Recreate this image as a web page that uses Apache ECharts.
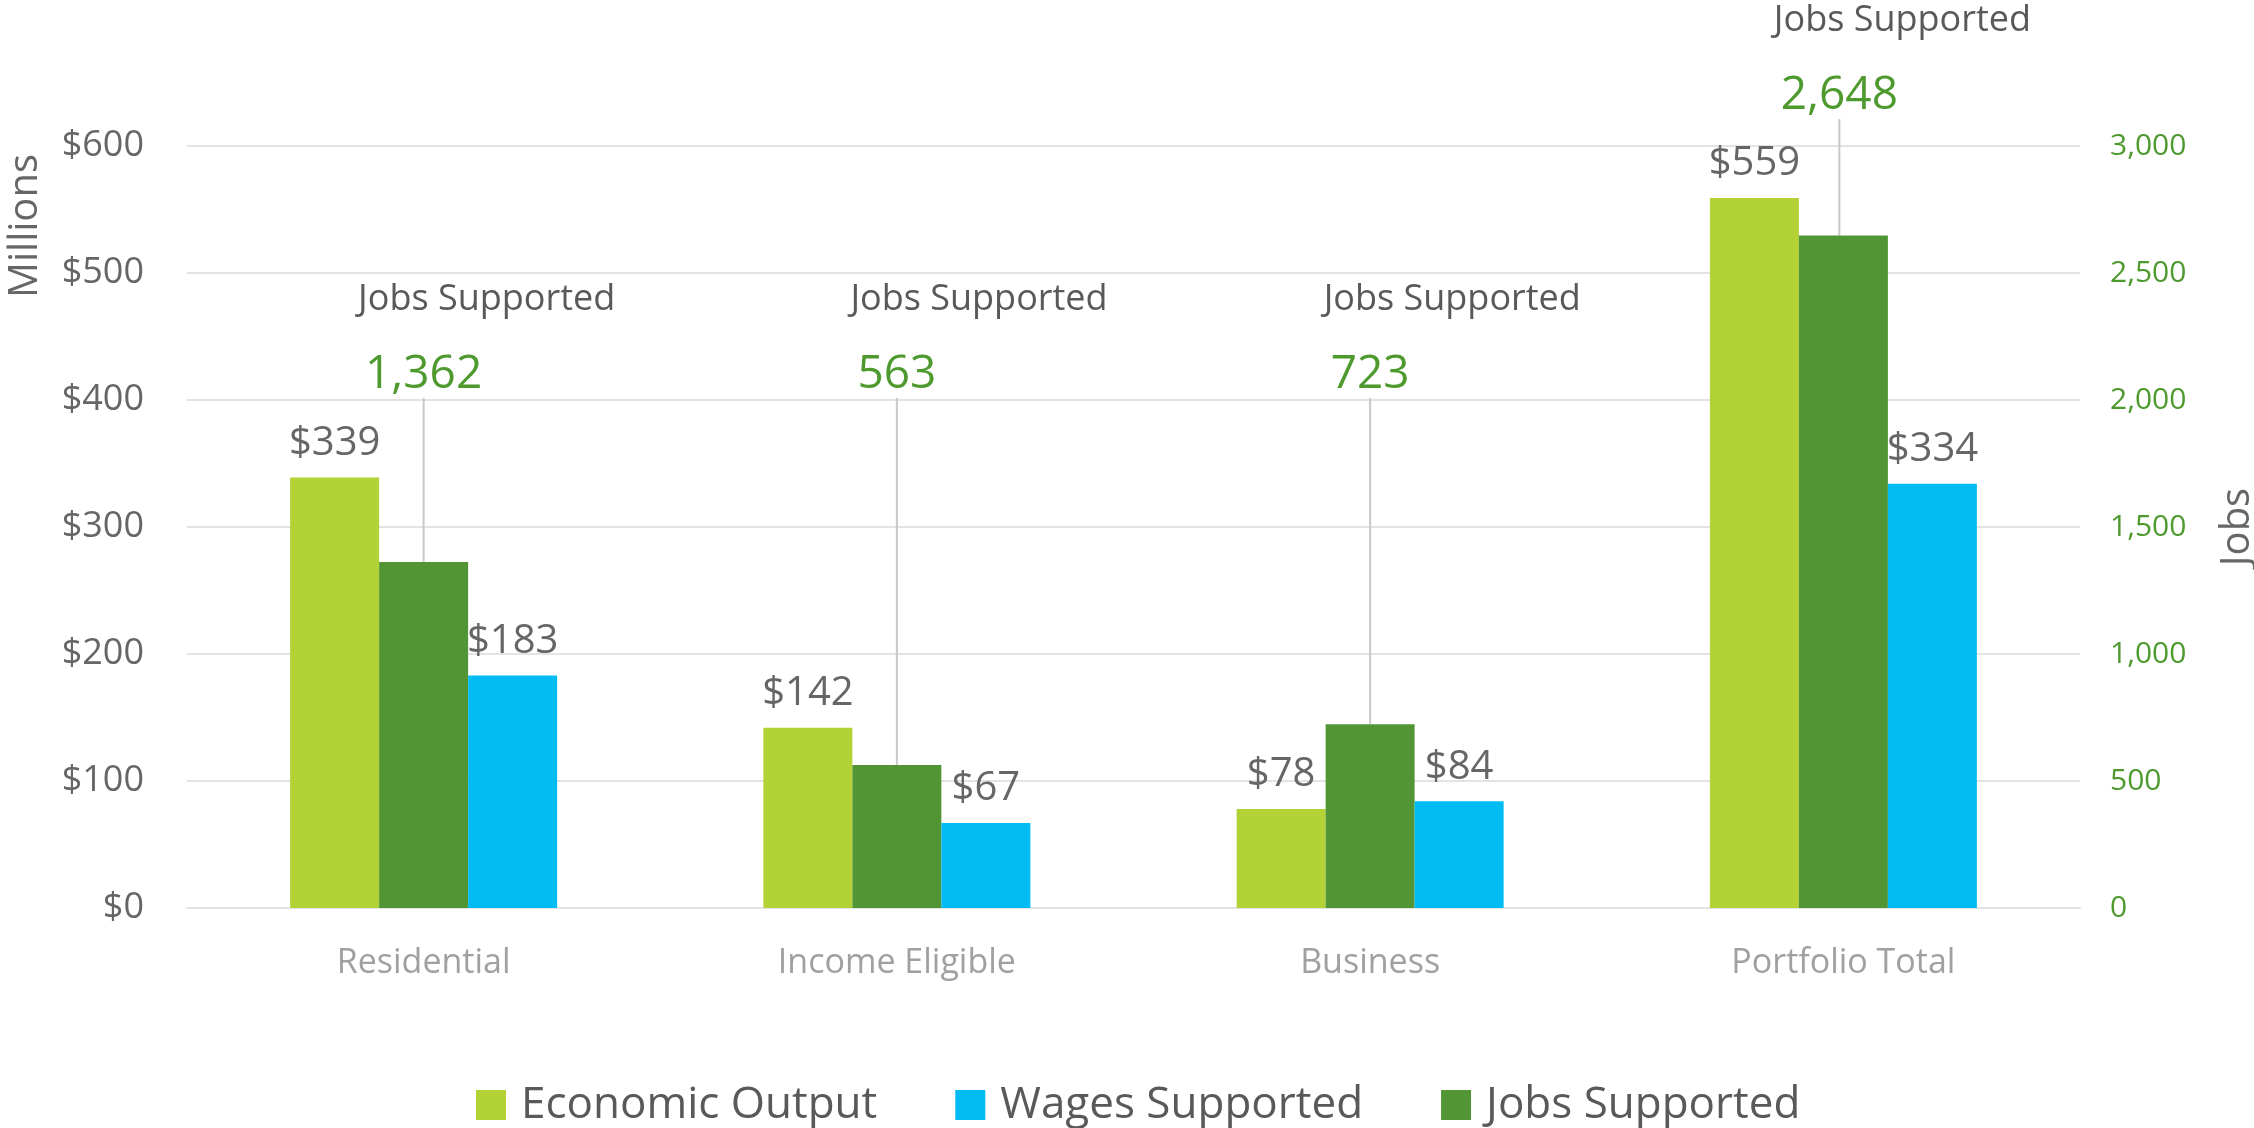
<!DOCTYPE html>
<html>
<head>
<meta charset="utf-8">
<script src="https://cdn.jsdelivr.net/npm/echarts@6/dist/echarts.min.js"></script>
<style>
  html,body{margin:0;padding:0;background:#fff}
  #main{width:2254px;height:1128px}
</style>
</head>
<body>
<div id="main"></div>
<script>
// data
var categories = ['Residential', 'Income Eligible', 'Business', 'Portfolio Total']
var economicOutput = [339, 142, 78, 559]
var wagesSupported = [183, 67, 84, 334]
var jobsSupported = [1362, 563, 723, 2648]
var moneyTicks = { min: 0, max: 600, interval: 100 }
var jobTicks = { min: 0, max: 3000, interval: 500 }

var FONT = '"Open Sans", "Noto Sans", sans-serif'
var grey = '#666666'
var green = '#4e9a2f'

// measure text so the green number sits centred over its bar and the
// "Jobs Supported" line starts just left of the number (as in Excel)
var ctx = document.createElement('canvas').getContext('2d')
function textW(str, size) {
  ctx.font = size + 'px ' + FONT
  return ctx.measureText(str).width
}
var titleW = textW('Jobs Supported', 36)

var jobsData = jobsSupported.map(function (v) {
  var numW = textW(v.toLocaleString('en-US'), 46)
  var tPad = Math.max(0, titleW - numW - 14)
  var vPad = Math.max(0, titleW - numW - 7)
  return {
    value: v,
    label: {
      rich: {
        t: { fontSize: 36, color: '#595959', lineHeight: 80, fontFamily: FONT, align: 'left', padding: [0, 0, 0, tPad] },
        v: { fontSize: 46, color: green, lineHeight: 70, fontFamily: FONT, align: 'left', padding: [0, 0, 0, vPad] }
      }
    }
  }
})

var myChart = echarts.init(document.getElementById('main'))

var option = {
  animation: false,
  textStyle: { fontFamily: FONT },
  grid: { left: 187, right: 174, top: 146, bottom: 220 },
  legend: {
    data: ['Economic Output', 'Wages Supported', 'Jobs Supported'],
    left: 471,
    top: 1078,
    itemWidth: 30,
    itemHeight: 30,
    itemGap: 78,
    icon: 'rect',
    textStyle: { fontSize: 44, color: '#595959', fontFamily: FONT, padding: [0, 0, 0, 10] }
  },
  xAxis: {
    type: 'category',
    data: categories,
    axisLine: { lineStyle: { color: '#e3e3e3', width: 2 } },
    axisTick: { show: false },
    axisLabel: { fontSize: 34, color: '#a0a0a0', margin: 38, fontFamily: FONT }
  },
  yAxis: [
    {
      type: 'value',
      min: moneyTicks.min, max: moneyTicks.max, interval: moneyTicks.interval,
      axisLabel: { formatter: '${value}', fontSize: 36, color: grey, margin: 43, fontFamily: FONT },
      splitLine: { lineStyle: { color: '#e3e3e3', width: 2 } },
      axisLine: { show: false }, axisTick: { show: false }
    },
    {
      type: 'value',
      position: 'right',
      min: jobTicks.min, max: jobTicks.max, interval: jobTicks.interval,
      axisLabel: {
        formatter: function (v) { return v.toLocaleString('en-US') },
        fontSize: 30, color: green, margin: 30, fontFamily: FONT
      },
      splitLine: { show: false },
      axisLine: { show: false }, axisTick: { show: false }
    }
  ],
  series: [
    {
      name: 'Economic Output',
      type: 'bar',
      data: economicOutput,
      barWidth: 89,
      barGap: '0%',
      itemStyle: { color: '#b2d235' },
      label: { show: true, position: 'top', distance: 14, formatter: '${c}', fontSize: 40, color: grey, fontFamily: FONT }
    },
    {
      name: 'Jobs Supported',
      type: 'bar',
      yAxisIndex: 1,
      data: jobsData,
      barWidth: 89,
      barGap: '0%',
      itemStyle: { color: '#529535' },
      label: {
        show: true,
        position: 'top',
        formatter: function (p) { return '{t|Jobs Supported}\n{v|' + p.value.toLocaleString('en-US') + '}' }
      },
      labelLine: { show: true, lineStyle: { color: '#c8c8c8', width: 2 } },
      labelLayout: function (params) {
        var r = params.rect
        var cx = r.x + r.width / 2
        return params.dataIndex === 3
          ? { x: cx - 4, y: 131, align: 'center', verticalAlign: 'bottom' }
          : { x: cx, y: 410, align: 'center', verticalAlign: 'bottom' }
      }
    },
    {
      name: 'Wages Supported',
      type: 'bar',
      data: wagesSupported,
      barWidth: 89,
      barGap: '0%',
      itemStyle: { color: '#00bcf2' },
      label: { show: true, position: 'top', distance: 14, formatter: '${c}', fontSize: 40, color: grey, fontFamily: FONT }
    }
  ],
  graphic: [
    {
      type: 'text', x: 26, y: 226, rotation: Math.PI / 2,
      style: { text: 'Millions', fontSize: 40, fill: grey, fontFamily: FONT, align: 'center', verticalAlign: 'middle' }
    },
    {
      type: 'text', x: 2238, y: 527, rotation: Math.PI / 2,
      style: { text: 'Jobs', fontSize: 40, fill: grey, fontFamily: FONT, align: 'center', verticalAlign: 'middle' }
    }
  ]
}
myChart.setOption(option)
</script>
</body>
</html>
